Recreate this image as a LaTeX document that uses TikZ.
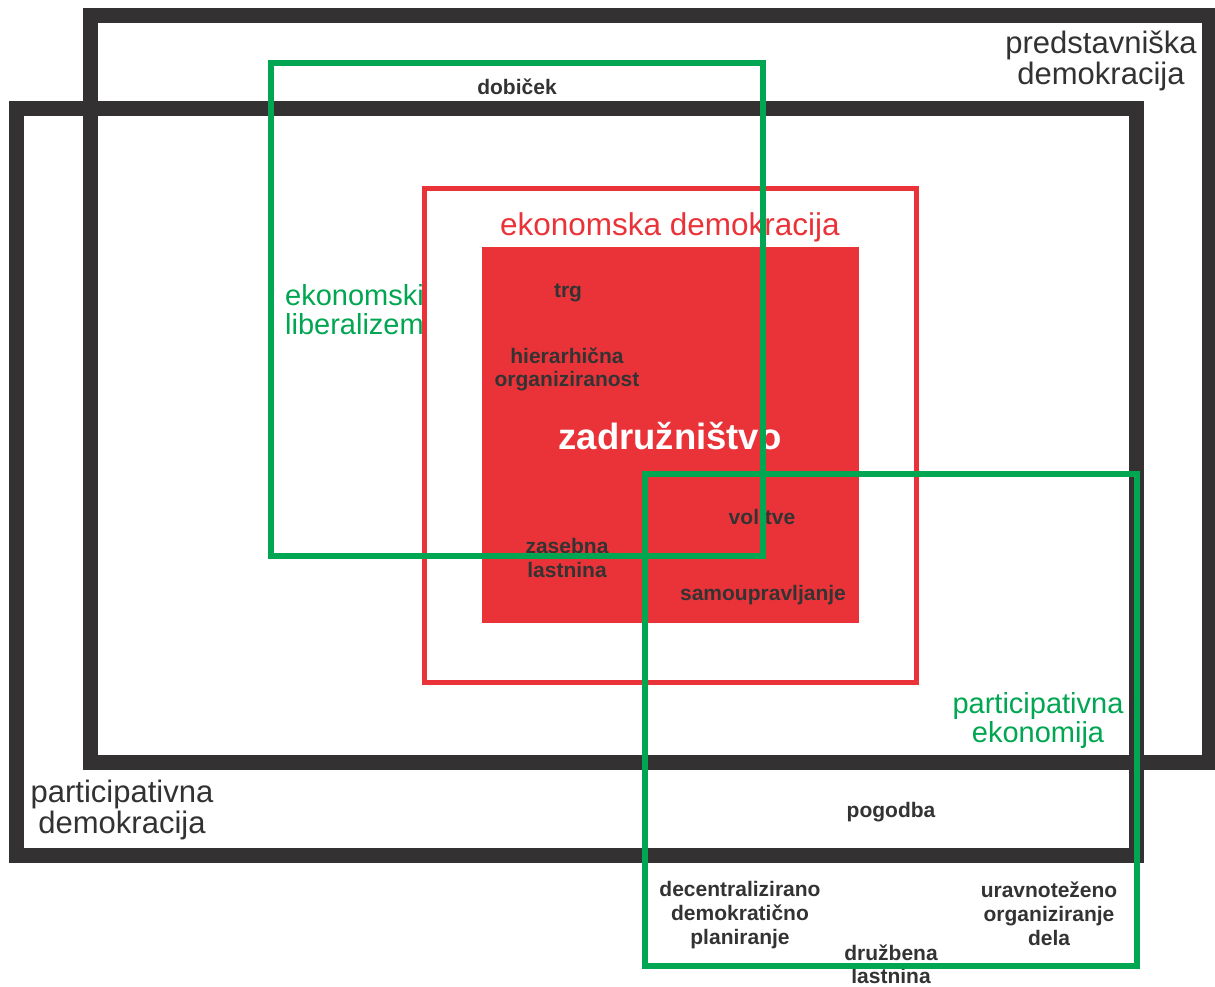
\documentclass[tikz,border=0pt]{standalone}
\usepackage{fontspec}
\setmainfont{Liberation Sans}
\definecolor{darkline}{HTML}{333132}
\definecolor{grn}{HTML}{00A651}
\definecolor{rd}{HTML}{EA3339}
\definecolor{txt}{HTML}{333333}
\begin{document}
\begin{tikzpicture}[x=1pt,y=-1pt,
  darkbox/.style={draw=darkline,line width=15pt},
  greenbox/.style={draw=grn,line width=6.5pt},
  redbox/.style={draw=rd,line width=5pt},
  biglabel/.style={inner sep=0pt,anchor=base,align=center,font=\fontsize{31}{31}\selectfont,text=darkline},
  greenlabel/.style={inner sep=0pt,anchor=base,font=\fontsize{29}{29}\selectfont,text=grn},
  smalllabel/.style={inner sep=0pt,anchor=base,align=center,font=\fontsize{21}{24}\selectfont\bfseries,text=txt}
]
\useasboundingbox[fill=white] (0,0) rectangle (1215,987);
% filled core
\fill[rd] (482,247) rectangle (859,623);
% labels (anchor base = baseline of last line)
\node[biglabel] (predst) at (1101,85) {predstavniška\\demokracija};
\node[biglabel] (partdem) at (122,833) {participativna\\demokracija};
\node[greenlabel,anchor=base west,align=left] (ekolib) at (285,334) {ekonomski\\liberalizem};
\node[greenlabel,align=center] (parteko) at (1038,742) {participativna\\ekonomija};
\node[inner sep=0pt,anchor=base,font=\fontsize{31.5}{31.5}\selectfont,text=rd] (ekodem) at (670,235) {ekonomska demokracija};
\node[inner sep=0pt,anchor=base,font=\fontsize{36.5}{36.5}\selectfont\bfseries,text=white] (zadr) at (670,449) {zadružništvo};
\node[smalllabel] (dobicek) at (517,95) {dobiček};
\node[smalllabel] (trg) at (568,297) {trg};
\node[smalllabel,font=\fontsize{21}{22.5}\selectfont\bfseries] (hier) at (567,386) {hierarhična\\organiziranost};
\node[smalllabel] (volitve) at (762,524) {volitve};
\node[smalllabel] (zasebna) at (567,577) {zasebna\\lastnina};
\node[smalllabel] (samo) at (763,600) {samoupravljanje};
\node[smalllabel] (pogodba) at (891,817) {pogodba};
\node[smalllabel] (decen) at (740,944) {decentralizirano\\demokratično\\planiranje};
\node[smalllabel] (urav) at (1049,945) {uravnoteženo\\organiziranje\\dela};
\node[smalllabel,font=\fontsize{21}{23}\selectfont\bfseries] (druzb) at (891,983) {družbena\\lastnina};
% frames
\draw[darkbox] (90.5,15.5) rectangle (1209,762);
\draw[darkbox] (16.5,108.5) rectangle (1136.5,855.5);
\draw[redbox] (424,189) rectangle (916,682);
\draw[greenbox] (271,63) rectangle (763,556);
\draw[greenbox] (645,474) rectangle (1137,966);
\end{tikzpicture}
\end{document}
